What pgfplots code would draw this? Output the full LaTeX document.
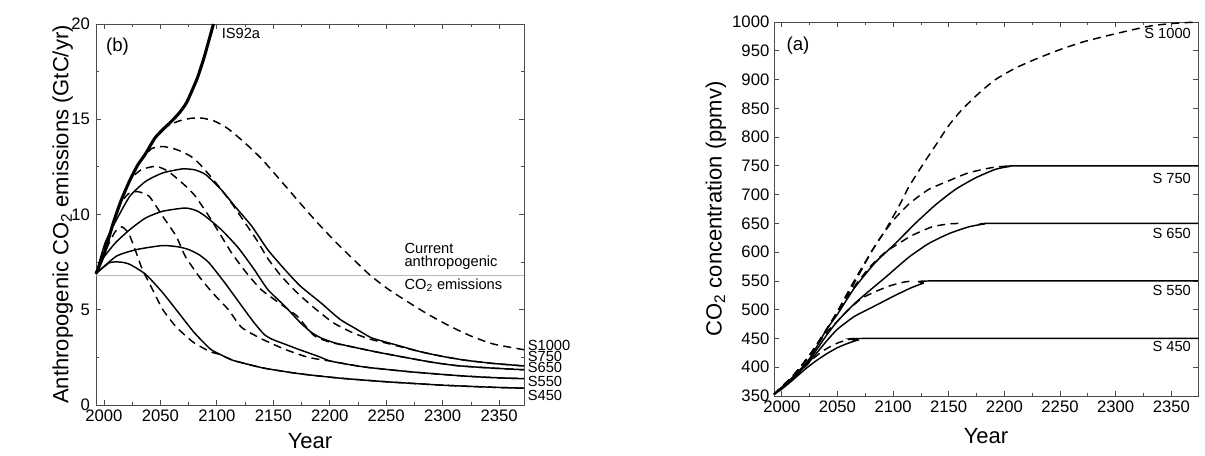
\documentclass[border=0pt]{standalone}
\usepackage{fontspec}
\setmainfont{Liberation Sans}
\usepackage{pgfplots}
\pgfplotsset{compat=1.18}
\tikzset{lab/.style={inner sep=1pt, font=\fontsize{11}{12}\selectfont}}
\begin{document}
\begin{tikzpicture}
\useasboundingbox (0,0) rectangle (903.75pt,342pt);
\pgfplotsset{
  common/.style={
    scale only axis, anchor=south west, clip=false,
    xmin=1993, xmax=2372,
    xtick={2000,2050,...,2350},
    minor x tick num=1,
    tick align=inside,
    xtick pos=both, ytick pos=both,
    major tick length=3.5pt, minor tick length=2pt,
    axis line style={black!70, line width=0.6pt},
    every tick/.style={black!70, line width=0.6pt},
    tick label style={font=\fontsize{12.5}{13}\selectfont},
    label style={font=\fontsize{16.5}{18}\selectfont},
    /pgf/number format/assume math mode=true,
    /pgf/number format/1000 sep={},
    xlabel={Year},
    xlabel style={at={(axis description cs:0.5,0)}, anchor=center, yshift=-27pt},
  },
  sol/.style={black, line width=1.1pt, smooth, tension=0.35},
  das/.style={black, line width=1.1pt, dash pattern=on 6pt off 4pt, smooth, tension=0.35},
}
% ---------------- left panel (b) ----------------
\begin{axis}[common, at={(72pt,38.25pt)}, width=321pt, height=285.75pt,
  ymin=0, ymax=20, ytick={0,5,10,15,20}, minor y tick num=1,
  yticklabel style={xshift=-1pt},
  ylabel={Anthropogenic CO\textsubscript{2} emissions (GtC/yr)},
  ylabel style={at={(axis description cs:-0.078,0.5)}, anchor=center}]
\addplot[gray!55, line width=1pt] coordinates {(1993,6.8) (2372,6.8)};
% IS92a
\addplot[black, line width=2.3pt, smooth, tension=0.35] coordinates {(1993,6.9) (2000,7.9) (2008,9.5) (2015,10.7) (2023,11.8) (2030,12.6) (2037,13.2) (2045,14.0) (2052,14.45) (2060,14.9) (2067,15.35) (2073,15.85) (2078,16.5) (2083,17.2) (2089,18.3) (2097,20)};
% S1000 dashed
\addplot[das] coordinates {(1993,6.9) (2008,9.5) (2015,10.7) (2023,11.8) (2030,12.6) (2037,13.2) (2045,14.0) (2055,14.6) (2066,14.9) (2077,15.05) (2087,15.06) (2098,14.9) (2110,14.5) (2125,13.75) (2139,12.96) (2152,12.09) (2166,11.13) (2180,10.17) (2192,9.38) (2206,8.51) (2221,7.64) (2236,6.8) (2252,6.07) (2270,5.38) (2287,4.76) (2306,4.15) (2325,3.62) (2345,3.2) (2372,2.9)};
% S750
\addplot[sol] coordinates {(1993,6.9) (2001,8.5) (2010,9.6) (2023,10.96) (2037,11.74) (2052,12.18) (2069,12.39) (2080,12.35) (2090,12.1) (2104,11.3) (2116,10.43) (2131,9.38) (2145,8.16) (2160,7.12) (2174,6.24) (2192,5.37) (2209,4.5) (2224,3.97) (2236,3.55) (2245,3.38) (2262,3.1) (2280,2.8) (2300,2.55) (2320,2.35) (2345,2.18) (2372,2.05)};
\addplot[das] coordinates {(1993,6.9) (2008,9.5) (2015,10.7) (2023,11.8) (2032,12.75) (2042,13.45) (2052,13.57) (2062,13.45) (2069,13.3) (2077,13.05) (2084,12.7) (2093,12.1) (2102,11.45) (2113,10.6) (2125,9.56) (2136,8.6) (2145,7.7) (2157,6.77) (2171,5.9) (2186,5.11) (2203,4.32) (2220,3.8) (2236,3.45) (2250,3.25) (2280,2.8) (2300,2.55) (2320,2.35) (2345,2.18) (2372,2.05)};
% S650
\addplot[sol] coordinates {(1993,6.9) (1998.5,7.64) (2010,8.5) (2023,9.21) (2037,9.82) (2052,10.17) (2072,10.34) (2082,10.2) (2090,9.9) (2104,9.2) (2119,8.25) (2133,7.12) (2145,6.07) (2160,5.2) (2174,4.32) (2184,3.8) (2193,3.5) (2205,3.25) (2220,3.05) (2240,2.8) (2262,2.55) (2290,2.25) (2312,2.07) (2340,1.95) (2372,1.85)};
\addplot[das] coordinates {(1993,6.9) (2008,9.5) (2015,10.7) (2023,11.8) (2033,12.35) (2046,12.53) (2056,12.3) (2066,11.83) (2074,11.4) (2081,10.96) (2093,9.91) (2104,8.86) (2113,7.99) (2125,7.03) (2139,6.07) (2157,5.28) (2171,4.67) (2186,3.65) (2200,3.3) (2220,3.05) (2240,2.8) (2262,2.55) (2290,2.25) (2312,2.07) (2340,1.95) (2372,1.85)};
% S550
\addplot[sol] coordinates {(1993,6.9) (2011,7.81) (2029,8.16) (2052,8.37) (2066,8.3) (2075,8.16) (2084,7.9) (2093,7.47) (2107,6.42) (2122,5.2) (2133,4.32) (2142,3.7) (2149,3.45) (2160,3.2) (2172,2.93) (2190,2.55) (2201,2.3) (2230,2.0) (2270,1.75) (2312,1.55) (2340,1.45) (2372,1.38)};
\addplot[das] coordinates {(1993,6.9) (2008,9.5) (2015,10.6) (2022,11.1) (2030,11.2) (2040,10.96) (2052,9.91) (2064,8.86) (2072,7.81) (2084,6.77) (2096,5.9) (2110,5.02) (2122,4.07) (2140,3.46) (2160,2.93) (2181,2.5) (2201,2.3) (2230,2.0) (2270,1.75) (2312,1.55) (2340,1.45) (2372,1.38)};
% S450
\addplot[sol] coordinates {(1993,6.9) (2005,7.47) (2015,7.5) (2023,7.38) (2037,6.86) (2052,5.9) (2066,4.85) (2080,3.8) (2094,2.95) (2103,2.65) (2114,2.35) (2130,2.1) (2143,1.92) (2172,1.65) (2207,1.42) (2250,1.22) (2300,1.04) (2340,0.94) (2372,0.88)};
\addplot[das] coordinates {(1993,6.9) (2003,8.3) (2010,9.1) (2016,9.35) (2022,9.0) (2028,8.1) (2034,7.12) (2043,6.07) (2052,5.02) (2064,4.1) (2079,3.3) (2094,2.8) (2103,2.65) (2114,2.35) (2130,2.1) (2143,1.92) (2172,1.65) (2207,1.42) (2250,1.22) (2300,1.04) (2340,0.94) (2372,0.88)};
% texts
\node[font=\fontsize{14}{16}\selectfont] at (axis cs:2012,18.8) {(b)};
\node[lab, anchor=west] at (axis cs:2103,19.5) {IS92a};
\node[lab, anchor=base west, inner sep=0pt] at (axis cs:2266,7.95) {Current};
\node[lab, anchor=base west, inner sep=0pt] at (axis cs:2266,7.27) {anthropogenic};
\node[lab, anchor=base west, inner sep=0pt] at (axis cs:2266,6.07) {CO\textsubscript{2} emissions};
\node[lab, anchor=west, inner sep=0pt, xshift=1pt] at (axis cs:2374,3.14) {S1000};
\node[lab, anchor=west, inner sep=0pt, xshift=1pt] at (axis cs:2374,2.57) {S750};
\node[lab, anchor=west, inner sep=0pt, xshift=1pt] at (axis cs:2374,1.99) {S650};
\node[lab, anchor=west, inner sep=0pt, xshift=1pt] at (axis cs:2374,1.26) {S550};
\node[lab, anchor=west, inner sep=0pt, xshift=1pt] at (axis cs:2374,0.52) {S450};
\end{axis}
% ---------------- right panel (a) ----------------
\begin{axis}[common, at={(580.5pt,45pt)}, width=318pt, height=280.5pt,
  xmax=2374,
  ymin=350, ymax=1000, ytick={350,400,...,1000},
  ylabel={CO\textsubscript{2} concentration (ppmv)},
  ylabel style={at={(axis description cs:-0.137,0.5)}, anchor=center},
  xlabel style={yshift=-3pt}]
% S1000 dashed
\addplot[das] coordinates {(1993,353) (2010,385) (2025,421) (2040,465) (2050,497) (2059,526) (2069,560) (2081,602) (2093,638) (2105,679) (2114,713) (2126,750) (2138,785) (2150,820) (2162,848) (2177,876) (2192,900) (2210,920) (2230,937) (2250,952) (2270,965) (2290,975) (2314,986) (2334,994) (2355,998) (2374,1000)};
% S750
\addplot[sol] coordinates {(1993,353) (2010,383) (2025,415) (2040,465) (2050,492) (2065,537) (2084,582) (2102,615) (2120,650) (2138,682) (2156,709) (2174,729) (2192,744) (2205,749) (2215,750) (2374,750)};
\addplot[das] coordinates {(1993,353) (2010,385) (2025,421) (2040,465) (2050,497) (2065,550) (2085,615) (2100,655) (2115,685) (2132,709) (2150,724) (2168,738) (2189,747) (2205,750)};
% S650
\addplot[sol] coordinates {(1993,353) (2010,382) (2025,413) (2040,455) (2050,480) (2065,510) (2080,535) (2093,556) (2114,591) (2132,615) (2150,632) (2168,644) (2182,649) (2192,650) (2374,650)};
\addplot[das] coordinates {(1993,353) (2010,385) (2025,421) (2040,465) (2050,495) (2065,540) (2080,576) (2093,600) (2105,615) (2117,629) (2135,644) (2150,649) (2160,650)};
% S550
\addplot[sol] coordinates {(1993,353) (2010,381) (2025,410) (2040,445) (2050,466) (2065,488) (2080,503) (2100,523) (2115,537) (2127,546) (2136,550) (2374,550)};
\addplot[das] coordinates {(1993,353) (2010,384) (2025,420) (2040,460) (2050,480) (2060,500) (2072,520) (2086,533) (2098,542) (2110,548) (2118,550)};
% S450
\addplot[sol] coordinates {(1993,353) (2000,362) (2010,378) (2020,395) (2030,410) (2040,423) (2050,434) (2060,442) (2068,447) (2075,450) (2374,450)};
\addplot[das] coordinates {(1993,353) (2000,363) (2010,380) (2020,399) (2030,418) (2040,432) (2050,442) (2058,447) (2065,450)};
% texts
\node[font=\fontsize{14}{16}\selectfont] at (axis cs:2014.6,958) {(a)};
\node[lab, anchor=east] at (axis cs:2369,980) {S 1000};
\node[lab, anchor=east] at (axis cs:2369,728) {S 750};
\node[lab, anchor=east] at (axis cs:2369,632) {S 650};
\node[lab, anchor=east] at (axis cs:2369,534) {S 550};
\node[lab, anchor=east] at (axis cs:2369,436) {S 450};
\end{axis}
\end{tikzpicture}
\end{document}
